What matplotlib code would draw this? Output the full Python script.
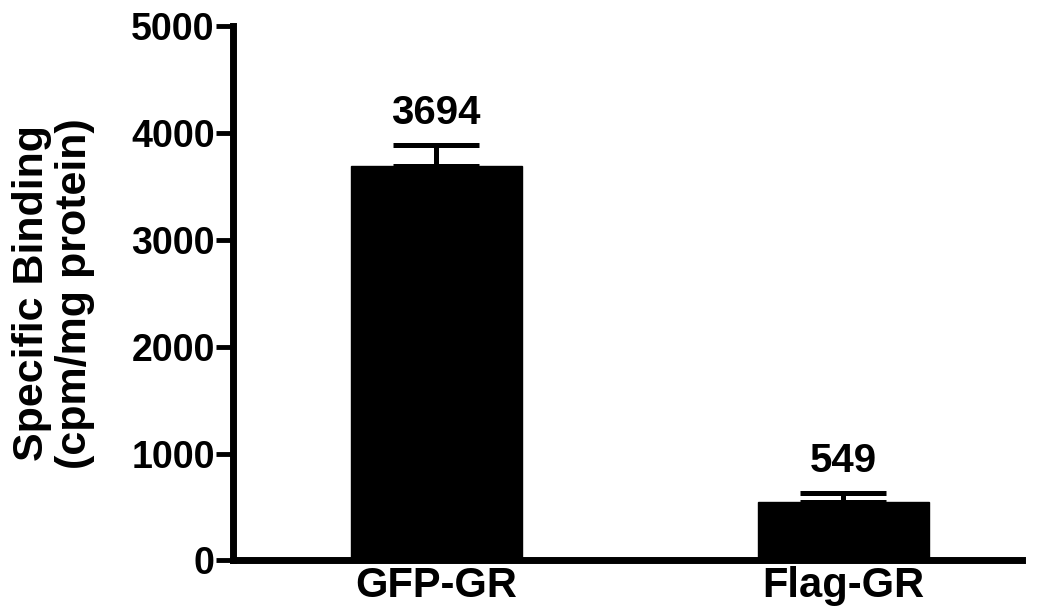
import matplotlib as mpl
mpl.use('Agg')
import matplotlib.pyplot as plt

groups = ['GFP-GR', 'Flag-GR']
binding = [3694, 549]
sem = [200, 85]
value_labels = ['3694', '549']

plt.rcParams['font.family'] = ['Liberation Sans', 'DejaVu Sans']
plt.rcParams['font.weight'] = 'bold'

fig = plt.figure(figsize=(10.39, 6.15), dpi=100)
ax = fig.add_axes([0.224, 0.089, 0.76, 0.868])

x = list(range(len(groups)))
ax.bar(x, binding, width=0.42, color='black', edgecolor='black', zorder=2)
ax.errorbar(x, binding, yerr=[[0, 0], sem], fmt='none', ecolor='black',
            elinewidth=3.6, capsize=31, capthick=3.6, zorder=1)

# value printed above each error bar
for xi, v, s, lab in zip(x, binding, sem, value_labels):
    ax.text(xi, v + s + 120, lab, ha='center', va='bottom',
            fontsize=29, fontweight='bold')

ax.set_xlim(-0.50, 1.44)
ax.set_ylim(0, 5000)
ax.set_yticks([0, 1000, 2000, 3000, 4000, 5000])
ax.set_xticks(x)
ax.set_xticklabels(groups)
ax.tick_params(axis='y', length=12, width=3.5, labelsize=27, pad=1)
ax.tick_params(axis='x', length=0, labelsize=30, pad=4)
for lab in ax.get_xticklabels() + ax.get_yticklabels():
    lab.set_fontweight('bold')

ax.spines['top'].set_visible(False)
ax.spines['right'].set_visible(False)
ax.spines['left'].set_linewidth(5)
ax.spines['bottom'].set_linewidth(5)

ax.set_ylabel('Specific Binding\n(cpm/mg protein)', fontsize=31,
              fontweight='bold', labelpad=26, linespacing=1.1)

fig.savefig('out.png', dpi=100)
